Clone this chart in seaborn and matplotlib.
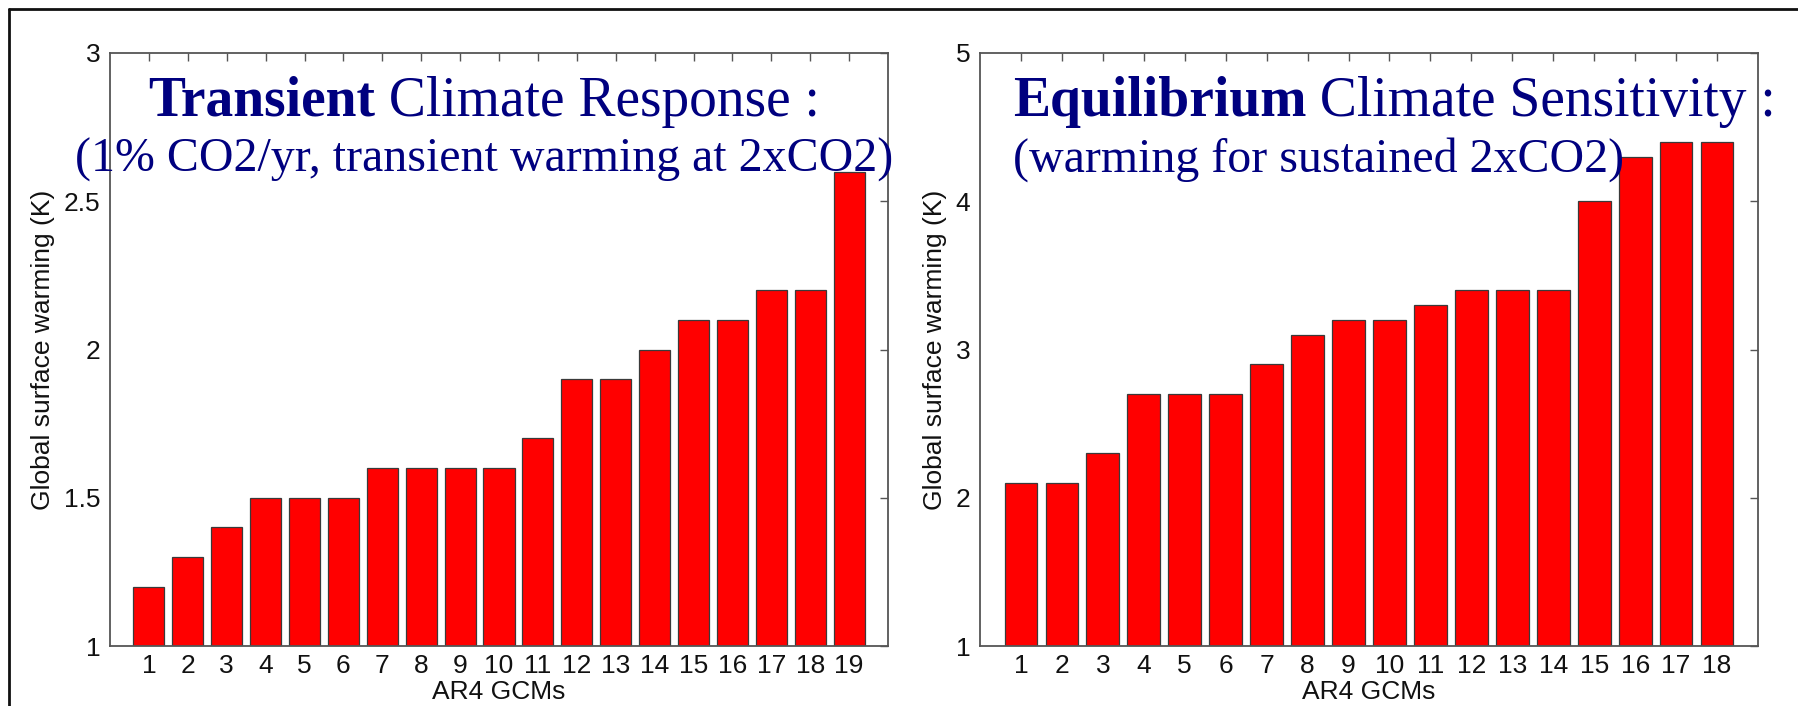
import matplotlib
matplotlib.use("Agg")
import matplotlib.pyplot as plt
import seaborn as sns
import pandas as pd
from matplotlib.lines import Line2D

# ---------------- data ----------------
tcr_models = list(range(1, 20))
tcr_values = [1.2, 1.3, 1.4, 1.5, 1.5, 1.5, 1.6, 1.6, 1.6, 1.6,
              1.7, 1.9, 1.9, 2.0, 2.1, 2.1, 2.2, 2.2, 2.6]
ecs_models = list(range(1, 19))
ecs_values = [2.1, 2.1, 2.3, 2.7, 2.7, 2.7, 2.9, 3.1, 3.2, 3.2,
              3.3, 3.4, 3.4, 3.4, 4.0, 4.3, 4.4, 4.4]
tcr_yticks = [1, 1.5, 2, 2.5, 3]
tcr_yticklabels = ["1", "1.5", "2", "2.5", "3"]
ecs_yticks = [1, 2, 3, 4, 5]
ecs_yticklabels = ["1", "2", "3", "4", "5"]
xlabel_text = "AR4 GCMs"
ylabel_text = "Global surface warming (K)"
tcr_title_bold = "Transient"
tcr_title_rest = " Climate Response :"
tcr_subtitle = "(1% CO2/yr, transient warming at 2xCO2)"
ecs_title_bold = "Equilibrium"
ecs_title_rest = " Climate Sensitivity :"
ecs_subtitle = "(warming for sustained 2xCO2)"

# ---------------- style ----------------
sns.set_style("white")
plt.rcParams['font.family'] = ['Liberation Sans', 'DejaVu Sans']

W, H = 1799, 706
fig = plt.figure(figsize=(W / 100, H / 100), dpi=100)
fig.patch.set_facecolor("white")

SPINE = "#555555"
NAVY = "#00007f"
TXT = "#111111"


def draw_panel(rect, models, values, yticks, yticklabels, xmax, ymax):
    ax = fig.add_axes(rect)
    df = pd.DataFrame({"model": models, "warming": values})
    sns.barplot(data=df, x="model", y="warming", native_scale=True,
                color="#ff0000", saturation=1, width=0.8,
                edgecolor="#3a3a3a", linewidth=0.9, ax=ax, errorbar=None)
    ax.set_axisbelow(True)
    ax.set_xlim(0, xmax)
    ax.set_ylim(1, ymax)
    ax.set_xticks(models)
    ax.set_xticklabels([str(m) for m in models])
    ax.set_yticks(yticks)
    ax.set_yticklabels(yticklabels)
    ax.tick_params(axis="both", direction="in", length=6, width=1.0,
                   color=SPINE, labelsize=19, labelcolor=TXT,
                   top=True, right=True)
    ax.tick_params(axis="x", pad=6)
    ax.tick_params(axis="y", pad=7)
    for s in ax.spines.values():
        s.set_visible(True)
        s.set_color(SPINE)
        s.set_linewidth(1.3)
    ax.set_xlabel(xlabel_text, fontsize=19, color=TXT, labelpad=1)
    ax.set_ylabel(ylabel_text, fontsize=19, color=TXT, labelpad=6)
    return ax


ax1 = draw_panel([110 / W, 1 - 646 / H, 778 / W, 593 / H],
                 tcr_models, tcr_values, tcr_yticks, tcr_yticklabels, 20, 3)
ax2 = draw_panel([980 / W, 1 - 646 / H, 778 / W, 593 / H],
                 ecs_models, ecs_values, ecs_yticks, ecs_yticklabels, 19, 5)

# ---------------- titles ----------------
renderer = fig.canvas.get_renderer()


def two_part(x_px, y_px, bold, rest, size, ha):
    y = 1 - y_px / H
    t1 = fig.text(0, y, bold, fontsize=size, fontweight="bold",
                  family="Liberation Serif", color=NAVY, va="baseline", ha="left")
    t2 = fig.text(0, y, rest, fontsize=size, family="Liberation Serif",
                  color=NAVY, va="baseline", ha="left")
    w1 = t1.get_window_extent(renderer).width
    w2 = t2.get_window_extent(renderer).width
    x0 = x_px - (w1 + w2) / 2 if ha == "center" else x_px
    t1.set_x(x0 / W)
    t2.set_x((x0 + w1) / W)


two_part(484, 116, tcr_title_bold, tcr_title_rest, 40, "center")
fig.text(484 / W, 1 - 172 / H, tcr_subtitle, fontsize=34.5,
         family="Liberation Serif", color=NAVY, va="baseline", ha="center")
two_part(1013, 116, ecs_title_bold, ecs_title_rest, 40, "left")
fig.text(1013 / W, 1 - 172 / H, ecs_subtitle, fontsize=34.5,
         family="Liberation Serif", color=NAVY, va="baseline", ha="left")

# ---------------- outer frame ----------------
fx, fy = 9 / W, 1 - 9 / H
fig.add_artist(Line2D([fx, fx], [0, fy], transform=fig.transFigure,
                      color="#111111", linewidth=2))
fig.add_artist(Line2D([fx, 1], [fy, fy], transform=fig.transFigure,
                      color="#111111", linewidth=2))

fig.savefig("out.png", dpi=100)
